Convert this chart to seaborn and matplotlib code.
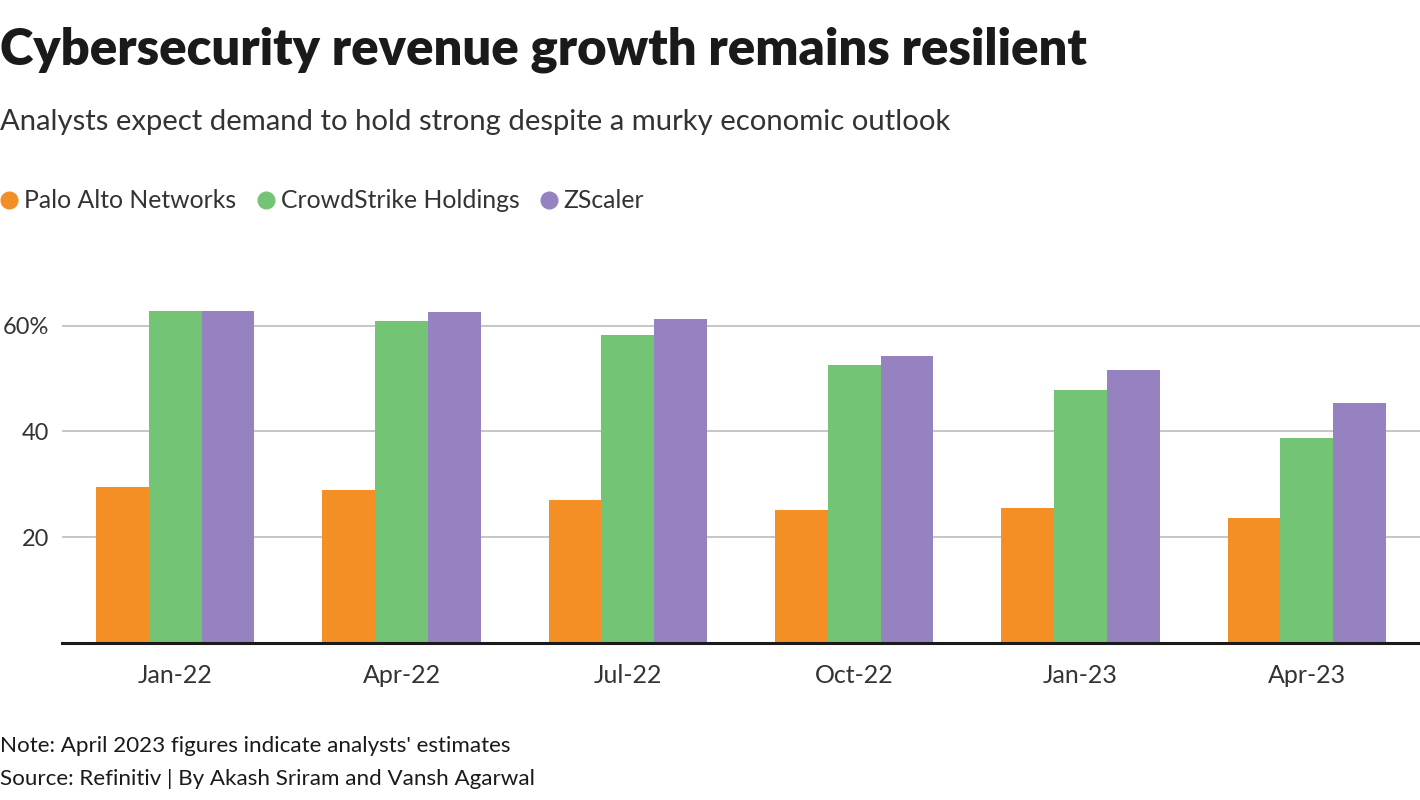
import matplotlib
matplotlib.use("Agg")
import matplotlib.pyplot as plt
import seaborn as sns
import pandas as pd
from matplotlib.lines import Line2D

quarters = ["Jan-22", "Apr-22", "Jul-22", "Oct-22", "Jan-23", "Apr-23"]
companies = ["Palo Alto Networks", "CrowdStrike Holdings", "ZScaler"]
palo_alto = [29.4, 28.9, 27.0, 25.1, 25.5, 23.6]
crowdstrike = [62.7, 60.9, 58.3, 52.6, 47.8, 38.7]
zscaler = [62.7, 62.5, 61.3, 54.2, 51.6, 45.3]
colors = ["#F48F26", "#74C476", "#9682C0"]
yticks = [20, 40, 60]
ytick_labels = ["20", "40", "60%"]

rows = []
for name, vals in zip(companies, [palo_alto, crowdstrike, zscaler]):
    for q, v in zip(quarters, vals):
        rows.append({"quarter": q, "company": name, "value": v})
df = pd.DataFrame(rows)

sns.set_theme(style="white")
plt.rcParams['font.family'] = ['Lato', 'DejaVu Sans']

W, H = 1420, 800
fig = plt.figure(figsize=(W / 100, H / 100), dpi=100)
ax_left, ax_right, ax_top, ax_bottom = 62, 1420, 290, 643
ax = fig.add_axes([ax_left / W, 1 - ax_bottom / H, (ax_right - ax_left) / W, (ax_bottom - ax_top) / H])

sns.barplot(data=df, x="quarter", y="value", hue="company", order=quarters,
            hue_order=companies, palette=colors, width=0.70, saturation=1,
            linewidth=0, ax=ax, legend=False)

ax.set_xlim(-0.5, 5.5)
ax.set_ylim(0, (ax_bottom - ax_top) / 5.29)
ax.set_yticks(yticks)
ax.set_yticklabels(ytick_labels)
ax.yaxis.grid(True, color="#C6C6C6", linewidth=1.4)
ax.set_axisbelow(True)
for s in ["top", "right", "left"]:
    ax.spines[s].set_visible(False)
ax.spines["bottom"].set_color("#1a1a1a")
ax.spines["bottom"].set_linewidth(2.2)
ax.set_xlabel("")
ax.set_ylabel("")
ax.tick_params(axis="x", length=0, labelsize=18, colors="#333333", pad=15)
ax.tick_params(axis="y", length=0, labelsize=17, colors="#333333", pad=9)
for lab in ax.get_yticklabels():
    lab.set_horizontalalignment("right")

fig.text(0.0, 1 - 50 / H, "Cybersecurity revenue growth remains resilient",
         fontsize=36.6, fontweight="heavy", color="#1a1a1a", va="center", ha="left")
fig.text(0.0, 1 - 122 / H, "Analysts expect demand to hold strong despite a murky economic outlook",
         fontsize=21.1, color="#333333", va="center", ha="left")

handles = [Line2D([0], [0], marker="o", linestyle="", markersize=12,
                  markerfacecolor=c, markeredgecolor=c) for c in colors]
fig.legend(handles, companies, loc="center left", bbox_to_anchor=(-0.018, 1 - 201 / H),
           ncol=3, frameon=False, fontsize=17.8, handletextpad=0.1,
           columnspacing=0.7, handlelength=1.0, labelcolor="#333333")

fig.text(0.0, 1 - 746 / H, "Note: April 2023 figures indicate analysts' estimates",
         fontsize=16.1, color="#1a1a1a", va="center", ha="left")
fig.text(0.0, 1 - 779 / H, "Source: Refinitiv | By Akash Sriram and Vansh Agarwal",
         fontsize=16.1, color="#1a1a1a", va="center", ha="left")

fig.savefig("out.png", dpi=100)
